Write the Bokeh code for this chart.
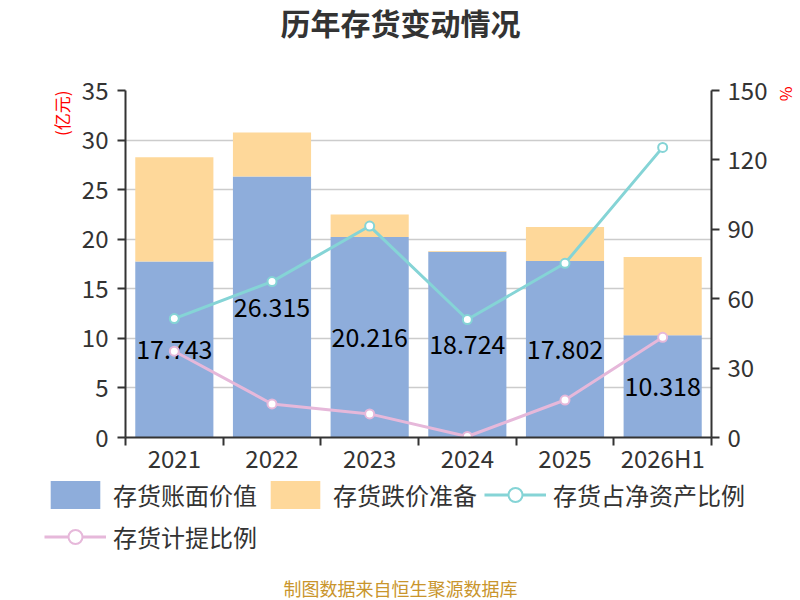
import numpy as np
from bokeh.plotting import figure
from bokeh.models import (ColumnDataSource, Range1d, LinearAxis, FixedTicker,
                          Legend, LegendItem, Title, Label)
from bokeh.core.properties import value
from bokeh.embed import file_html
from bokeh.resources import INLINE

# ---------------- data ----------------
years = ["2021", "2022", "2023", "2024", "2025", "2026H1"]
book_value = [17.743, 26.315, 20.216, 18.724, 17.802, 10.318]      # 存货账面价值 (亿元)
impairment = [10.53, 4.46, 2.28, 0.08, 3.43, 7.88]                 # 存货跌价准备 (亿元)
inv_to_net_assets = [51.4, 67.4, 91.4, 51.0, 75.3, 125.4]          # 存货占净资产比例 (%)
provision_ratio = [37.3, 14.5, 10.2, 0.43, 16.2, 43.3]             # 存货计提比例 (%)
left_ticks = [0, 5, 10, 15, 20, 25, 30, 35]
right_ticks = [0, 30, 60, 90, 120, 150]
series_names = ["存货账面价值", "存货跌价准备", "存货占净资产比例", "存货计提比例"]
title_text = "历年存货变动情况"
source_text = "制图数据来自恒生聚源数据库"

FONT = "Noto Sans CJK SC"
BLUE = "#8eaddb"
ORANGE = "#fed89a"
CYAN = "#85d4d6"
PINK = "#e6b8da"
AXIS = "#333333"

W = 800
HEAD_H, MAIN_H = 60, 417
FOOT_H = 600 - HEAD_H - MAIN_H


def blank(height):
    f = figure(width=W, height=height, output_backend="svg", toolbar_location=None,
               x_range=Range1d(0, W), y_range=Range1d(0, height),
               x_axis_type=None, y_axis_type=None, min_border=0)
    f.outline_line_color = None
    f.grid.visible = False
    return f


# ---------------- header (title) ----------------
head = blank(HEAD_H)
head.add_layout(Label(x=W / 2, y=HEAD_H - 21, text=title_text, text_font=FONT,
                      text_font_size="30px", text_font_style="bold",
                      text_color="#333333", text_align="center",
                      text_baseline="middle"))

# ---------------- main chart ----------------
xs = np.arange(len(years)) + 0.5
bv = np.array(book_value)
imp = np.array(impairment)
src = ColumnDataSource(dict(
    x=xs, book=bv, top=bv + imp, mid=bv / 2,
    label=[f"{v:.3f}" for v in book_value],
    r1=inv_to_net_assets, r2=provision_ratio,
))

p = figure(width=W, height=MAIN_H, output_backend="svg", toolbar_location=None,
           x_range=Range1d(0, len(years)), y_range=Range1d(0, left_ticks[-1]),
           min_border_left=125, min_border_right=89, min_border_top=30,
           min_border_bottom=37)
p.outline_line_color = None
p.extra_y_ranges = {"pct": Range1d(0, right_ticks[-1])}

p.xgrid.visible = False
p.ygrid.ticker = FixedTicker(ticks=left_ticks)
p.ygrid.grid_line_color = "#cccccc"
p.ygrid.grid_line_width = 1.5

p.vbar(x="x", width=0.8, bottom=0, top="book", source=src,
       fill_color=BLUE, line_color=None)
p.vbar(x="x", width=0.8, bottom="book", top="top", source=src,
       fill_color=ORANGE, line_color=None)

p.text(x="x", y="mid", text="label", source=src, text_font=value(FONT),
       text_font_size="25px", text_align="center", text_baseline="middle",
       text_color="#000000")

p.line(x="x", y="r1", source=src, y_range_name="pct", line_color=CYAN, line_width=3)
p.scatter(x="x", y="r1", source=src, y_range_name="pct", size=9,
          fill_color="white", line_color=CYAN, line_width=2)
p.line(x="x", y="r2", source=src, y_range_name="pct", line_color=PINK, line_width=3)
p.scatter(x="x", y="r2", source=src, y_range_name="pct", size=9,
          fill_color="white", line_color=PINK, line_width=2)


def style_axis(ax):
    ax.axis_line_color = AXIS
    ax.axis_line_width = 2
    ax.major_tick_line_color = AXIS
    ax.major_tick_line_width = 2
    ax.major_tick_out = 8
    ax.major_tick_in = 0
    ax.minor_tick_line_color = None
    ax.major_label_text_font = FONT
    ax.major_label_text_font_size = "24px"
    ax.major_label_text_color = AXIS


ly = p.yaxis[0]
ly.ticker = FixedTicker(ticks=left_ticks)
style_axis(ly)
ly.major_label_standoff = 9

ry = LinearAxis(y_range_name="pct", ticker=FixedTicker(ticks=right_ticks))
style_axis(ry)
ry.major_label_standoff = 8
p.add_layout(ry, "right")

xa = p.xaxis[0]
xa.ticker = FixedTicker(ticks=list(xs), minor_ticks=list(range(len(years) + 1)))
style_axis(xa)
xa.major_tick_out = 0
xa.minor_tick_line_color = AXIS
xa.minor_tick_line_width = 2
xa.minor_tick_out = 8
xa.minor_tick_in = 0
xa.major_label_standoff = -6
xa.major_label_overrides = {float(x): y for x, y in zip(xs, years)}

p.add_layout(Title(text="(亿元)", align="right", offset=0, standoff=10,
                   text_font=FONT, text_font_size="17px", text_font_style="normal",
                   text_color="#ff0000"), "left")
p.add_layout(Title(text="%", align="left", offset=-4, standoff=4,
                   vertical_align="top",
                   text_font=FONT, text_font_size="16px", text_font_style="normal",
                   text_color="#ff0000"), "right")

# ---------------- footer (legend + source) ----------------
foot = blank(FOOT_H)
proxy = ColumnDataSource(dict(x=[np.nan], y=[np.nan]))
g_blue = foot.vbar(x="x", top="y", width=1, source=proxy, fill_color=BLUE, line_color=None)
g_orange = foot.vbar(x="x", top="y", width=1, source=proxy, fill_color=ORANGE, line_color=None)
g_l1 = foot.line(x="x", y="y", source=proxy, line_color=CYAN, line_width=3)
g_s1 = foot.scatter(x="x", y="y", source=proxy, fill_color="white",
                    line_color=CYAN, line_width=2)
g_l2 = foot.line(x="x", y="y", source=proxy, line_color=PINK, line_width=3)
g_s2 = foot.scatter(x="x", y="y", source=proxy, fill_color="white",
                    line_color=PINK, line_width=2)

GLYPH_H, SPACING = 35, 7
legend = Legend(items=[
    LegendItem(label=series_names[0], renderers=[g_blue]),
    LegendItem(label=series_names[1], renderers=[g_orange]),
    LegendItem(label=series_names[2], renderers=[g_l1, g_s1]),
    LegendItem(label=series_names[3], renderers=[g_l2, g_s2]),
], orientation="horizontal", ncols=3,
    location=(44, FOOT_H - (2 * GLYPH_H + SPACING)),
    glyph_width=62, glyph_height=GLYPH_H, label_height=GLYPH_H, label_standoff=7,
    spacing=SPACING, padding=0, margin=0, border_line_color=None,
    background_fill_alpha=0, label_text_font=FONT,
    label_text_font_size="24px", label_text_color="#333333")
foot.add_layout(legend)

foot.add_layout(Label(x=W / 2, y=FOOT_H - (587.5 - (HEAD_H + MAIN_H)), text=source_text,
                      text_font=FONT, text_font_size="18px", text_color="#c9952c",
                      text_align="center", text_baseline="middle"))

open("out.html", "w").write(file_html([head, p, foot], INLINE))
